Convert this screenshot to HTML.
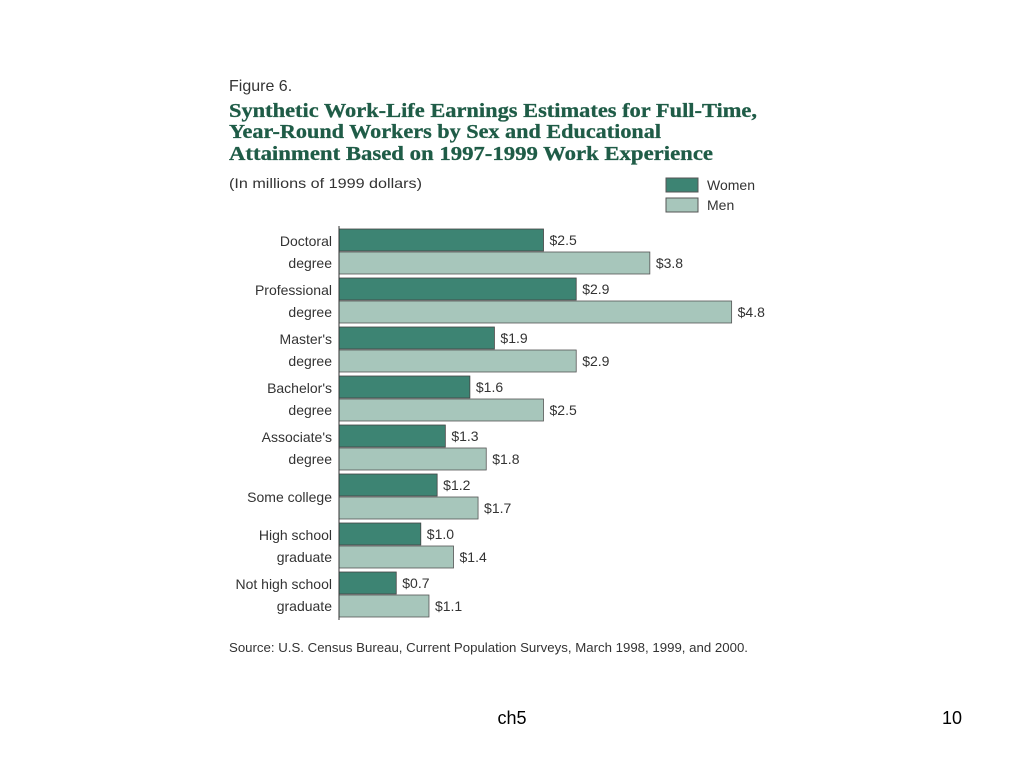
<!DOCTYPE html>
<html><head><meta charset="utf-8"><style>
body{margin:0;width:1024px;height:768px;background:#fff;overflow:hidden;font-family:"Liberation Sans",sans-serif}
svg{position:absolute;left:0;top:0}
</style></head><body>
<svg width="1024" height="768">
<text x="229" y="91" font-size="16" fill="#333">Figure 6.</text>
<g font-family="Liberation Serif, serif" font-weight="bold" font-size="20" fill="#1f5c47" stroke="#1f5c47" stroke-width="0.3">
<text x="229" y="117" textLength="528" lengthAdjust="spacingAndGlyphs">Synthetic Work-Life Earnings Estimates for Full-Time,</text>
<text x="229" y="138" textLength="432" lengthAdjust="spacingAndGlyphs">Year-Round Workers by Sex and Educational</text>
<text x="229" y="160" textLength="484" lengthAdjust="spacingAndGlyphs">Attainment Based on 1997-1999 Work Experience</text>
</g>
<text x="229" y="188" font-size="14" fill="#333" textLength="193" lengthAdjust="spacingAndGlyphs">(In millions of 1999 dollars)</text>
<rect x="666" y="178" width="32" height="14" fill="#3d8473" stroke="#555"/>
<text x="707" y="190" font-size="14" fill="#333">Women</text>
<rect x="666" y="198" width="32" height="14" fill="#a7c6bb" stroke="#555"/>
<text x="707" y="210" font-size="14" fill="#333">Men</text>
<g id="bars"></g>
<text x="229" y="652" font-size="12.5" fill="#333" textLength="519" lengthAdjust="spacingAndGlyphs">Source: U.S. Census Bureau, Current Population Surveys, March 1998, 1999, and 2000.</text>
<text x="512" y="724" font-size="18" text-anchor="middle" fill="#000">ch5</text>
<text x="962" y="724" font-size="18" text-anchor="end" fill="#000">10</text>
</svg>
<script>
const categories=[["Doctoral","degree"],["Professional","degree"],["Master's","degree"],["Bachelor's","degree"],["Associate's","degree"],["Some  college"],["High school","graduate"],["Not high school","graduate"]];
const women=[2.5,2.9,1.9,1.6,1.3,1.2,1.0,0.7];
const men=[3.8,4.8,2.9,2.5,1.8,1.7,1.4,1.1];
const NS="http://www.w3.org/2000/svg";
const g=document.getElementById('bars');
const x0=339,scale=81.8;
function xs(v){return x0+v*scale;}
function ys(i){return 229+i*49;}
function mk(t,a){const e=document.createElementNS(NS,t);for(const k in a)e.setAttribute(k,a[k]);g.appendChild(e);return e;}
categories.forEach((c,i)=>{
 const y=ys(i);
 const rw=mk('rect',{x:x0,y:y,width:xs(women[i])-x0,height:22,fill:'#3d8473',stroke:'#444','stroke-width':0.8});
 
 
 const rm=mk('rect',{x:x0,y:y+23,width:xs(men[i])-x0,height:22,fill:'#a7c6bb',stroke:'#555','stroke-width':0.8});
 
 
 const tw=mk('text',{x:xs(women[i])+6,y:y+16,'font-size':14,fill:'#333'});tw.textContent='$'+women[i].toFixed(1);
 
 
 const tm=mk('text',{x:xs(men[i])+6,y:y+39,'font-size':14,fill:'#333'});tm.textContent='$'+men[i].toFixed(1);
 
 
 if(c.length===2){
  const l1=mk('text',{x:332,y:y+17,'font-size':14,fill:'#333','text-anchor':'end'});l1.textContent=c[0];
  
  
  const l2=mk('text',{x:332,y:y+39,'font-size':14,fill:'#333','text-anchor':'end'});l2.textContent=c[1];
  
  
 }else{
  const l=mk('text',{x:332,y:y+28,'font-size':14,fill:'#333','text-anchor':'end'});l.textContent=c[0];
  
  
 }
});
const ax=mk('line',{x1:x0,y1:226,x2:x0,y2:620,stroke:'#333','stroke-width':1});


</script>
</body></html>
